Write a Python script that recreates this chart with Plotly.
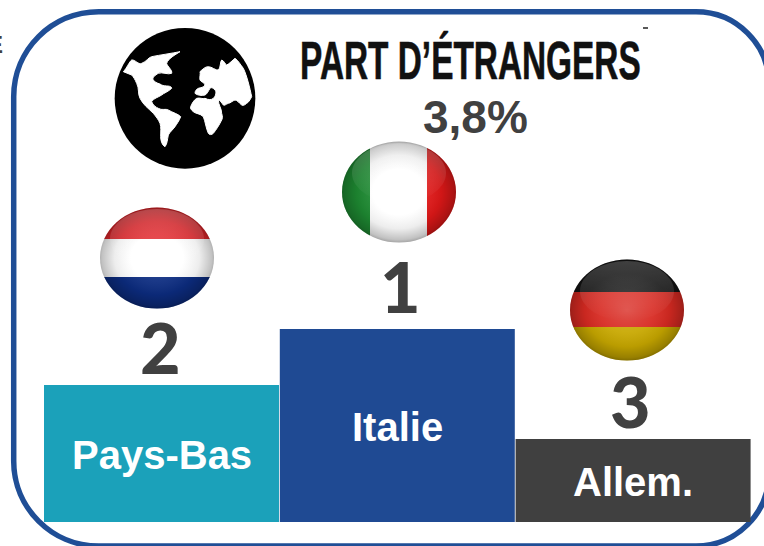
import base64
import plotly.graph_objects as go

categories = ["Pays-Bas", "Italie", "Allem."]
podium_heights = [137, 193, 83]
ranks = ["2", "1", "3"]
bar_colors = ["#1BA1BA", "#1F4A93", "#404040"]
title_text = "PART D’ÉTRANGERS"
share_text = "3,8%"

W, H = 764, 546
DARK = "#404040"
BLUE = "#1F4E96"


def px(x):
    return x / W


def py(y):
    return 1 - y / H


def uri(svg):
    return "data:image/svg+xml;base64," + base64.b64encode(svg.encode()).decode()


GLOSS = """
<defs>
<radialGradient id="shade" cx="50%" cy="50%" r="52%">
<stop offset="0" stop-color="#fff" stop-opacity="0.18"/>
<stop offset="0.42" stop-color="#fff" stop-opacity="0.06"/>
<stop offset="0.68" stop-color="#000" stop-opacity="0.07"/>
<stop offset="0.88" stop-color="#000" stop-opacity="0.24"/>
<stop offset="1" stop-color="#000" stop-opacity="0.48"/>
</radialGradient>
<linearGradient id="top" x1="0" y1="0" x2="0" y2="1">
<stop offset="0" stop-color="#fff" stop-opacity="0.20"/>
<stop offset="1" stop-color="#fff" stop-opacity="0.0"/>
</linearGradient>
<clipPath id="c"><ellipse cx="60" cy="52" rx="57" ry="50.5"/></clipPath>
</defs>
"""


def flag_svg(stripes, cuts, vertical=False):
    parts = []
    edges = [0] + list(cuts) + [120 if vertical else 104]
    for i, col in enumerate(stripes):
        a, b = edges[i], edges[i + 1]
        if vertical:
            parts.append(f'<rect x="{a}" y="0" width="{b-a}" height="104" fill="{col}"/>')
        else:
            parts.append(f'<rect x="0" y="{a}" width="120" height="{b-a}" fill="{col}"/>')
    return uri(
        '<svg xmlns="http://www.w3.org/2000/svg" width="120" height="104" viewBox="0 0 120 104">'
        + GLOSS
        + '<g clip-path="url(#c)">'
        + "".join(parts)
        + '<rect width="120" height="104" fill="url(#shade)"/>'
        + '<ellipse cx="60" cy="33" rx="47" ry="30" fill="url(#top)"/>'
        + "</g></svg>"
    )


america = "M100,155 C110,145 118,125 125,120 C135,118 145,135 155,130 C170,125 175,112 185,110 C210,105 245,100 270,95 C255,105 235,115 230,130 C232,140 248,150 245,160 C235,165 215,155 205,160 C195,165 185,175 190,180 C195,190 210,190 215,195 C225,200 245,195 245,205 C235,215 220,220 215,225 C205,232 190,235 185,245 C188,255 198,262 205,265 C215,272 228,265 235,270 C248,278 265,282 272,290 C268,302 260,312 255,320 C248,330 240,335 235,345 C232,358 232,372 225,380 C215,375 212,360 212,350 C212,335 214,322 210,310 C205,298 198,290 190,280 C175,265 160,255 150,235 C143,222 148,205 140,190 C135,178 130,170 125,165 Z"
eurasia = "M330,155 C338,148 345,140 355,140 C365,140 378,152 385,150 C392,145 390,125 395,120 C402,122 405,132 410,135 C418,132 428,120 435,115 C445,122 452,135 460,145 C470,165 480,205 485,230 C480,240 475,248 470,250 C463,256 458,258 455,255 C448,250 442,240 435,240 C428,242 420,250 415,250 C408,252 404,258 400,255 C396,250 390,240 385,240 C385,255 395,265 395,280 C398,290 398,295 395,300 C388,315 378,330 370,340 C365,345 358,345 355,340 C348,325 346,305 340,290 C330,280 318,282 310,275 C304,270 300,265 302,260 C306,250 312,240 320,235 C330,232 338,238 345,235 C355,240 365,240 370,235 C378,228 380,215 375,210 C368,202 362,202 360,205 C355,212 352,222 345,225 C335,228 322,226 315,220 C315,212 320,208 325,205 C332,203 342,202 345,195 C345,188 332,186 330,180 C328,172 332,162 330,155 Z"
globe = uri(
    '<svg xmlns="http://www.w3.org/2000/svg" width="540" height="450" viewBox="0 0 540 450">'
    '<circle cx="285" cy="235" r="211" fill="#000"/>'
    f'<path d="{america} {eurasia}" fill="#fff" stroke="#fff" stroke-width="3" stroke-linejoin="round"/>'
    "</svg>"
)


def image(src, x, y, w, h):
    return dict(source=src, xref="paper", yref="paper", x=px(x), y=py(y), sizex=w / W, sizey=h / H,
                xanchor="left", yanchor="top", sizing="stretch", layer="above")


fig = go.Figure(
    go.Bar(
        x=categories,
        y=podium_heights,
        marker=dict(color=bar_colors, line=dict(width=0)),
        width=0.9966,
        hoverinfo="skip",
    )
)

unit = 235.8
center0 = 161.5
fig.update_xaxes(visible=False, type="category", range=[-center0 / unit, (W - center0) / unit], fixedrange=True)
fig.update_yaxes(visible=False, range=[-(H - 522), 522], fixedrange=True)

rank_font = dict(family="Lato", size=70, color=DARK, weight=900)
rank_layout = [(-1.5, 38), (3, 43), (-2.5, 38)]
annotations = [
    dict(x=c, y=v + off, text=r, xref="x", yref="y", xshift=dx, showarrow=False, yanchor="middle", xanchor="center", font=rank_font)
    for c, v, r, (dx, off) in zip(categories, podium_heights, ranks, rank_layout)
]
annotations += [
    dict(x=c, y=v / 2, text=c, xref="x", yref="y", yshift=-1, showarrow=False, yanchor="middle", xanchor="center",
         font=dict(family="Liberation Sans", size=40, color="white", weight="bold"))
    for c, v in zip(categories, podium_heights)
]
annotations += [
    dict(x=px(470), y=py(60), xref="paper", yref="paper", text=title_text, showarrow=False, xanchor="center", yanchor="middle",
         font=dict(family="Liberation Sans", size=53, color="#111111", weight="bold")),
    dict(x=px(475), y=py(117), xref="paper", yref="paper", text=share_text, showarrow=False, xanchor="center", yanchor="middle",
         font=dict(family="Liberation Sans", size=46, color=DARK, weight="bold")),
    dict(x=px(5), y=py(44), xref="paper", yref="paper", text="E", showarrow=False, xanchor="right", yanchor="middle",
         font=dict(family="Liberation Sans", size=24, color=DARK, weight="bold")),
]

L, T, R, B = 13.7, 11.7, 769, 546
rl, rr = 85, 73
k = 0.5523


def corner(x0, y0, x1, y1, cx0, cy0, cx1, cy1):
    return f"C {px(cx0)} {py(cy0)} {px(cx1)} {py(cy1)} {px(x1)} {py(y1)} "


frame = f"M {px(L+rl)} {py(T)} L {px(R-rr)} {py(T)} "
frame += corner(R - rr, T, R, T + rr, R - rr + k * rr, T, R, T + rr - k * rr)
frame += f"L {px(R)} {py(B-rr)} "
frame += corner(R, B - rr, R - rr, B, R, B - rr + k * rr, R - rr + k * rr, B)
frame += f"L {px(L+rl)} {py(B)} "
frame += corner(L + rl, B, L, B - rl, L + rl - k * rl, B, L, B - rl + k * rl)
frame += f"L {px(L)} {py(T+rl)} "
frame += corner(L, T + rl, L + rl, T, L, T + rl - k * rl, L + rl - k * rl, T)
frame += "Z"

fig.update_layout(
    width=W,
    height=H,
    margin=dict(l=0, r=0, t=0, b=0),
    paper_bgcolor="white",
    plot_bgcolor="white",
    showlegend=False,
    annotations=annotations,
    shapes=[
        dict(type="path", path=frame, xref="paper", yref="paper", line=dict(color=BLUE, width=5.5), layer="below"),
        dict(type="line", x0=px(643), x1=px(648), y0=py(28), y1=py(28), xref="paper", yref="paper", line=dict(color="#222222", width=1.5)),
    ],
    images=[
        image(globe, 90, 20, 180, 150),
        image(flag_svg(["#E0252A", "#FFFFFF", "#0C2C80"], [33, 71]), 97, 206, 120, 104),
        image(flag_svg(["#1E8A32", "#FFFFFF", "#E01818"], [31, 88], vertical=True), 339, 140, 120, 104),
        image(flag_svg(["#141414", "#D82A22", "#C8A800"], [34, 69]), 567, 258, 120, 104),
    ],
)

squeeze = """
document.body.style.margin='0';
document.querySelectorAll('.annotation-text').forEach(function(t){
  if(t.textContent.indexOf('TRANGERS')>=0){
    t.style.transformBox='fill-box';
    t.style.transformOrigin='center';
    t.style.transform='scaleX(0.63)';
    t.style.stroke='#111111';
    t.style.strokeWidth='0.6px';
  }
});
"""
fig.write_html("out.html", config={"displayModeBar": False}, post_script=squeeze)
